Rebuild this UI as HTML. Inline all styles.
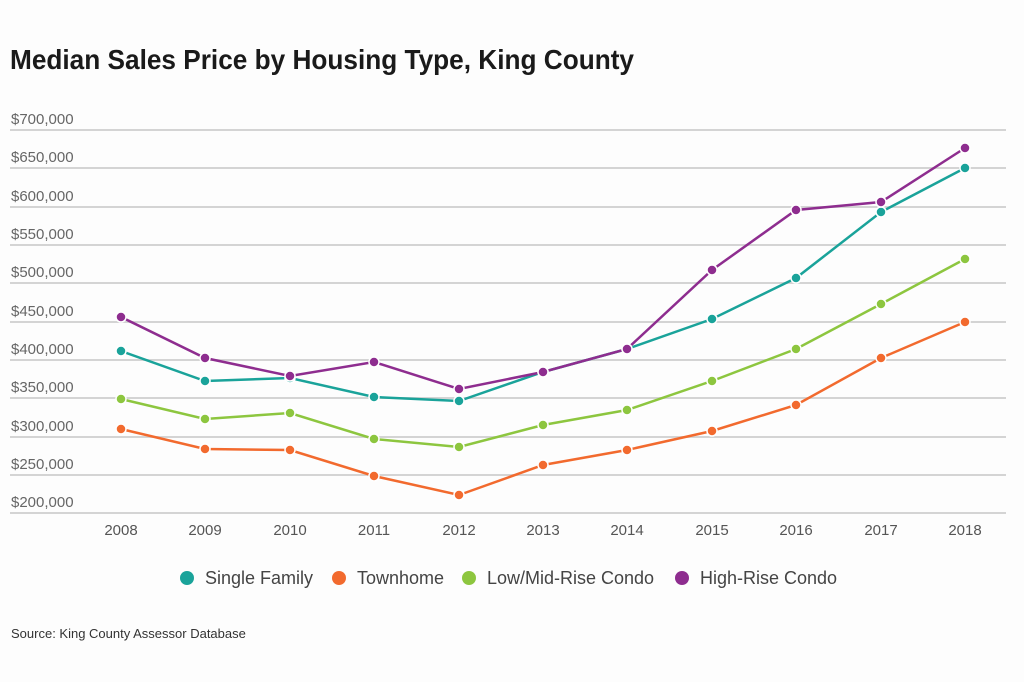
<!DOCTYPE html>
<html><head><style>
body{margin:0;background:#fff;width:1024px;height:682px;overflow:hidden}
</style></head><body>
<svg width="1024" height="682" xmlns="http://www.w3.org/2000/svg" font-family="Liberation Sans, sans-serif">
<rect width="1024" height="682" fill="#fdfdfd"/>
<text x="10" y="69" font-size="28" font-weight="bold" fill="#1a1a1a" textLength="624" lengthAdjust="spacingAndGlyphs">Median Sales Price by Housing Type, King County</text>
<g stroke="#d4d4d4" stroke-width="2">
<line x1="10" x2="1006" y1="130" y2="130"/><line x1="10" x2="1006" y1="168" y2="168"/>
<line x1="10" x2="1006" y1="207" y2="207"/><line x1="10" x2="1006" y1="245" y2="245"/>
<line x1="10" x2="1006" y1="283" y2="283"/><line x1="10" x2="1006" y1="322" y2="322"/>
<line x1="10" x2="1006" y1="360" y2="360"/><line x1="10" x2="1006" y1="398" y2="398"/>
<line x1="10" x2="1006" y1="437" y2="437"/><line x1="10" x2="1006" y1="475" y2="475"/>
<line x1="10" x2="1006" y1="513" y2="513"/>
</g>
<g font-size="15" fill="#666">
<text x="11" y="124">$700,000</text><text x="11" y="162">$650,000</text>
<text x="11" y="201">$600,000</text><text x="11" y="239">$550,000</text>
<text x="11" y="277">$500,000</text><text x="11" y="316">$450,000</text>
<text x="11" y="354">$400,000</text><text x="11" y="392">$350,000</text>
<text x="11" y="431">$300,000</text><text x="11" y="469">$250,000</text>
<text x="11" y="507">$200,000</text>
</g>
<g font-size="15" fill="#555" text-anchor="middle">
<text x="121" y="535">2008</text><text x="205" y="535">2009</text><text x="290" y="535">2010</text>
<text x="374" y="535">2011</text><text x="459" y="535">2012</text><text x="543" y="535">2013</text>
<text x="627" y="535">2014</text><text x="712" y="535">2015</text><text x="796" y="535">2016</text>
<text x="881" y="535">2017</text><text x="965" y="535">2018</text>
</g>
<g fill="none" stroke-width="2.5">
<polyline stroke="#f26a2e" points="121,429 205,449 290,450 374,476 459,495 543,465 627,450 712,431 796,405 881,358 965,322"/>
<polyline stroke="#8dc63f" points="121,399 205,419 290,413 374,439 459,447 543,425 627,410 712,381 796,349 881,304 965,259"/>
<polyline stroke="#1aa39a" points="121,351 205,381 290,378 374,397 459,401 543,372 627,349 712,319 796,278 881,212 965,168"/>
<polyline stroke="#8e2d8f" points="121,317 205,358 290,376 374,362 459,389 543,372 627,349 712,270 796,210 881,202 965,148"/>
</g>
<g stroke="#fff" stroke-width="1.5">
<g fill="#f26a2e"><circle cx="121" cy="429" r="5"/><circle cx="205" cy="449" r="5"/><circle cx="290" cy="450" r="5"/><circle cx="374" cy="476" r="5"/><circle cx="459" cy="495" r="5"/><circle cx="543" cy="465" r="5"/><circle cx="627" cy="450" r="5"/><circle cx="712" cy="431" r="5"/><circle cx="796" cy="405" r="5"/><circle cx="881" cy="358" r="5"/><circle cx="965" cy="322" r="5"/></g>
<g fill="#8dc63f"><circle cx="121" cy="399" r="5"/><circle cx="205" cy="419" r="5"/><circle cx="290" cy="413" r="5"/><circle cx="374" cy="439" r="5"/><circle cx="459" cy="447" r="5"/><circle cx="543" cy="425" r="5"/><circle cx="627" cy="410" r="5"/><circle cx="712" cy="381" r="5"/><circle cx="796" cy="349" r="5"/><circle cx="881" cy="304" r="5"/><circle cx="965" cy="259" r="5"/></g>
<g fill="#1aa39a"><circle cx="121" cy="351" r="5"/><circle cx="205" cy="381" r="5"/><circle cx="290" cy="378" r="5"/><circle cx="374" cy="397" r="5"/><circle cx="459" cy="401" r="5"/><circle cx="543" cy="372" r="5"/><circle cx="627" cy="349" r="5"/><circle cx="712" cy="319" r="5"/><circle cx="796" cy="278" r="5"/><circle cx="881" cy="212" r="5"/><circle cx="965" cy="168" r="5"/></g>
<g fill="#8e2d8f"><circle cx="121" cy="317" r="5"/><circle cx="205" cy="358" r="5"/><circle cx="290" cy="376" r="5"/><circle cx="374" cy="362" r="5"/><circle cx="459" cy="389" r="5"/><circle cx="543" cy="372" r="5"/><circle cx="627" cy="349" r="5"/><circle cx="712" cy="270" r="5"/><circle cx="796" cy="210" r="5"/><circle cx="881" cy="202" r="5"/><circle cx="965" cy="148" r="5"/></g>
</g>
<g font-size="18" fill="#444">
<circle cx="187" cy="578" r="7" fill="#1aa39a"/><text x="205" y="584">Single Family</text>
<circle cx="339" cy="578" r="7" fill="#f26a2e"/><text x="357" y="584">Townhome</text>
<circle cx="469" cy="578" r="7" fill="#8dc63f"/><text x="487" y="584">Low/Mid-Rise Condo</text>
<circle cx="682" cy="578" r="7" fill="#8e2d8f"/><text x="700" y="584">High-Rise Condo</text>
</g>
<text x="11" y="638" font-size="13" fill="#333">Source: King County Assessor Database</text>
</svg>
</body></html>
